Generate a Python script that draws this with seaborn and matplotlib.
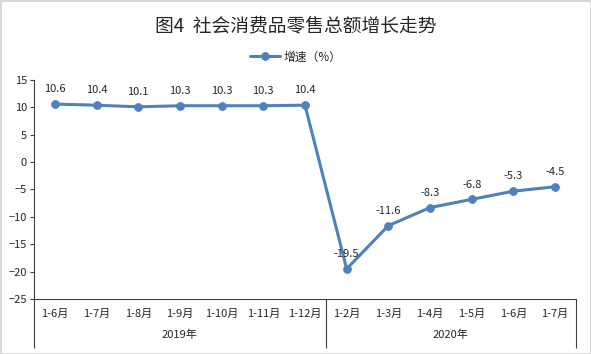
import numpy as np
import pandas as pd
import matplotlib
matplotlib.use("Agg")
import matplotlib.pyplot as plt
import seaborn as sns

sns.set_style("white")
plt.rcParams['font.family'] = ['Noto Sans CJK SC', 'DejaVu Sans']

# data
months = ['1-6月', '1-7月', '1-8月', '1-9月', '1-10月', '1-11月', '1-12月',
          '1-2月', '1-3月', '1-4月', '1-5月', '1-6月', '1-7月']
growth = [10.6, 10.4, 10.1, 10.3, 10.3, 10.3, 10.4,
          -19.5, -11.6, -8.3, -6.8, -5.3, -4.5]
years = ['2019年', '2020年']
year_counts = [7, 6]

color = '#4F81BD'
df = pd.DataFrame({'pos': np.arange(len(months)), 'growth': growth})

fig = plt.figure(figsize=(5.91, 3.54), dpi=100, linewidth=2, edgecolor='#D9D9D9')
ax = fig.add_axes([0.0575, 0.1554, 0.9171, 0.6186])

sns.lineplot(data=df, x='pos', y='growth', ax=ax, color=color, linewidth=2.2,
             marker='o', markersize=5.5, markeredgecolor=color, label='增速（%）')

for x, v in zip(df['pos'], df['growth']):
    ax.annotate(f'{v:.1f}', (x, v), xytext=(0, 7), textcoords='offset points',
                ha='center', va='bottom', fontsize=8)

ax.set_ylim(-25, 15)
ax.set_yticks(np.arange(-25, 16, 5))
ax.set_xlim(-0.5, len(months) - 0.5)
ax.set_xticks(np.arange(len(months)))
ax.set_xticklabels(months, fontsize=8)
ax.tick_params(axis='x', which='major', length=0, pad=7)
ax.set_xticks(np.arange(-0.5, len(months)), minor=True)
ax.tick_params(axis='x', which='minor', length=17, width=0.8, color='#404040', direction='out')
ax.tick_params(axis='y', length=3, width=0.8, color='#404040', labelsize=8, pad=2, left=True)
ax.set_xlabel('')
ax.set_ylabel('')

for s in ['top', 'right']:
    ax.spines[s].set_visible(False)
for s in ['left', 'bottom']:
    ax.spines[s].set_color('#404040')
    ax.spines[s].set_linewidth(0.8)

# year level of the axis
bounds = np.concatenate([[0], np.cumsum(year_counts)]) - 0.5
sec = ax.secondary_xaxis('bottom')
sec.set_xticks(bounds)
sec.set_xticklabels([''] * len(bounds))
sec.tick_params(axis='x', which='major', length=35, width=0.8, color='#404040')
centers = (bounds[:-1] + bounds[1:]) / 2
sec.set_xticks(centers, minor=True)
sec.set_xticklabels(years, minor=True, fontsize=8)
sec.tick_params(axis='x', which='minor', length=0, pad=22)
sec.spines['bottom'].set_visible(False)

leg = ax.legend(loc='center', bbox_to_anchor=(0.5, 0.839), bbox_transform=fig.transFigure,
                frameon=False, fontsize=8.5, handlelength=2.5, handletextpad=0.3)

fig.suptitle('图4  社会消费品零售总额增长走势', y=0.958, fontsize=13.5)

fig.savefig('out.png', dpi=100, edgecolor=fig.get_edgecolor())
